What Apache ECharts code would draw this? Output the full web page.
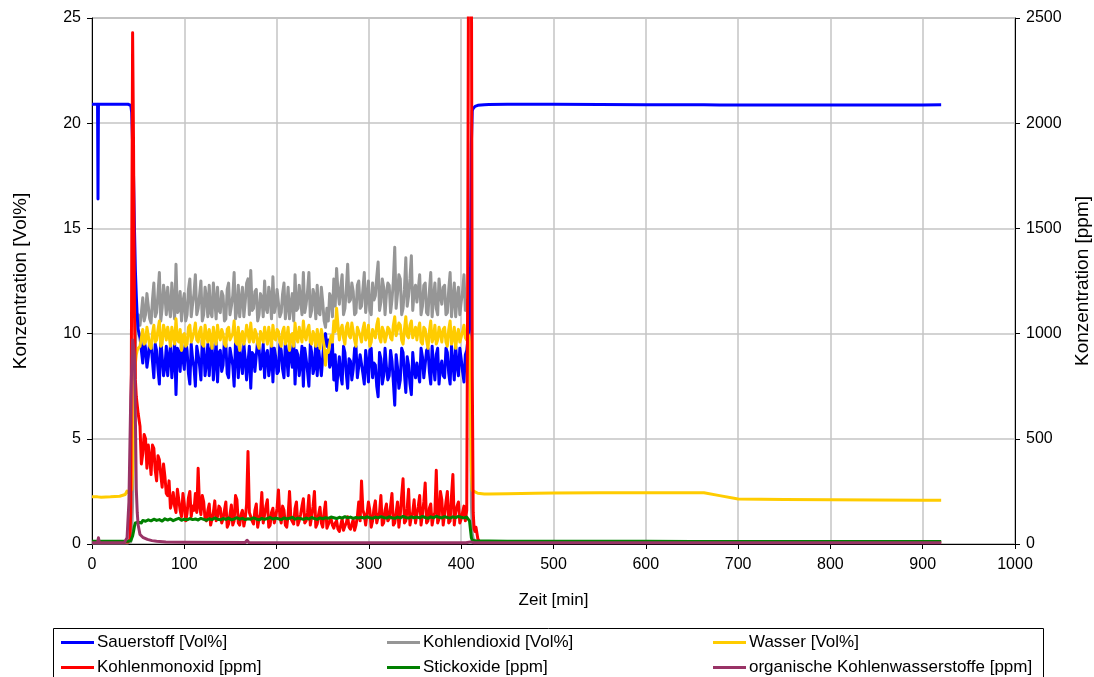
<!DOCTYPE html>
<html>
<head>
<meta charset="utf-8">
<script src="https://cdn.jsdelivr.net/npm/echarts@6/dist/echarts.min.js"></script>
<style>
html,body{margin:0;padding:0;background:#fff;overflow:hidden;}
#chart{width:1094px;height:677px;}
</style>
</head>
<body>
<div id="chart"></div>
<script>
// ---- axis ticks ----
const xTicks = [0, 100, 200, 300, 400, 500, 600, 700, 800, 900, 1000];
const leftTicks = [0, 5, 10, 15, 20, 25];
const rightTicks = [0, 500, 1000, 1500, 2000, 2500];

// ---- series names ----
const names = ['Sauerstoff [Vol%]', 'Kohlendioxid [Vol%]', 'Wasser [Vol%]',
               'Kohlenmonoxid [ppm]', 'Stickoxide [ppm]', 'organische Kohlenwasserstoffe [ppm]'];

// ---- start phase (min) ----
const preTime = [0, 6, 6.5, 7, 10, 20, 30, 36, 38, 39, 40, 41, 42, 43, 44, 45, 46, 47, 48, 49, 50];
const o2Pre  = [20.9, 20.9, 16.4, 20.9, 20.9, 20.9, 20.9, 20.9, 20.9, 20.9, 20.9, 20.9, 20.85, 20.5, 19.0, 17.5, 15.0, 13.0, 11.8, 10.8, 10.2];
const co2Pre = [0.05, 0.05, 0.05, 0.05, 0.05, 0.05, 0.05, 0.05, 0.05, 0.05, 0.05, 0.06, 0.1, 0.5, 2.0, 5.0, 8.0, 9.5, 10.2, 10.6, 10.9];
const h2oPre = [2.25, 2.24, 2.24, 2.24, 2.22, 2.24, 2.27, 2.35, 2.52, 2.5, 2.42, 2.43, 2.45, 2.6, 3.5, 5.5, 7.5, 8.6, 9.0, 9.2, 9.3];
const coPre  = [8, 8, 8, 8, 9, 9, 10, 10, 10, 10, 10, 20, 150, 1300, 2430, 1900, 1100, 780, 700, 660, 620];
const noxPre = [13, 13, 13, 13, 13, 13, 13, 13, 13, 13, 13, 14, 16, 22, 38, 60, 85, 100, 105, 104, 103];

// ---- combustion phase: A samples at 52 + 3i, B samples at 53.5 + 3i ----
const midStart = 52, midStep = 3;
const co2MidA = [
 10.4, 11.7, 10.9, 11.3, 10.5, 12.4, 11.0, 12.9, 11.2, 11.8,
 12.2, 10.8, 11.5, 13.3, 11.1, 10.6, 11.9, 10.9, 12.6, 11.4,
 12.8, 11.2, 12.5, 10.9, 11.7, 12.3, 10.8, 11.6, 12.2, 11.0,
 11.8, 10.7, 12.4, 11.3, 12.9, 11.1, 10.8, 12.2, 11.5, 12.6,
 13.0, 11.2, 12.1, 10.9, 11.7, 12.5, 11.0, 11.8, 12.7, 11.3,
 12.1, 11.0, 12.4, 11.3, 10.7, 11.9, 12.8, 11.2, 11.6, 12.9,
 11.4, 12.9, 11.1, 11.8, 12.3, 10.9, 11.5, 10.3, 10.6, 11.7,
 12.6, 13.1, 11.4, 12.8, 11.2, 13.3, 11.6, 12.0, 11.0, 12.5,
 11.3, 12.9, 11.7, 11.1, 12.4, 11.8, 13.4, 11.5, 12.2, 11.9,
 12.3, 11.6, 14.1, 11.9, 12.6, 11.2, 13.6, 11.8, 13.7, 12.0,
 11.5, 12.8, 11.3, 12.4, 10.9, 12.9, 11.7, 11.2, 12.6, 11.4,
 12.3, 11.0, 12.9, 11.6, 10.8, 12.2, 11.5, 12.8, 11.4];
const co2MidB = [
 11.0, 10.6, 11.9, 10.7, 11.6, 10.8, 11.9, 10.6, 12.3, 10.9,
 11.3, 12.4, 10.7, 11.0, 12.0, 11.5, 10.6, 12.1, 10.8, 11.9,
 10.9, 11.8, 10.6, 12.2, 10.8, 11.0, 12.4, 10.7, 11.1, 12.0,
 10.6, 12.1, 10.9, 11.8, 10.7, 12.3, 11.6, 10.8, 12.4, 10.9,
 11.1, 12.0, 10.6, 11.9, 10.8, 11.2, 12.2, 10.7, 11.0, 12.1,
 10.8, 11.9, 10.7, 12.2, 11.4, 10.6, 11.1, 12.3, 10.9, 11.0,
 12.0, 10.8, 12.1, 10.7, 11.0, 12.2, 10.6, 11.2, 11.9, 10.8,
 11.3, 12.0, 12.2, 10.9, 12.1, 11.5, 12.4, 10.9, 12.3, 11.2,
 12.1, 11.0, 12.5, 10.9, 11.6, 12.7, 11.1, 12.6, 10.9, 12.4,
 11.0, 12.5, 11.2, 12.8, 10.9, 12.1, 11.3, 12.6, 11.1, 12.3,
 12.1, 10.9, 12.3, 11.0, 12.0, 10.8, 12.4, 10.9, 11.8, 12.2,
 10.9, 12.1, 10.8, 12.4, 11.7, 10.9, 12.0, 11.1];
const o2MidA = [
 9.8, 8.6, 9.3, 8.9, 9.5, 7.9, 9.2, 7.6, 8.9, 8.4,
 8.0, 9.4, 8.7, 7.1, 9.1, 9.6, 8.3, 9.2, 7.6, 8.8,
 7.5, 9.0, 7.8, 9.4, 8.6, 8.0, 9.5, 8.7, 7.7, 9.2,
 8.5, 9.5, 7.9, 8.9, 7.5, 9.1, 9.4, 8.1, 8.8, 7.8,
 7.4, 9.0, 8.2, 9.3, 8.6, 7.9, 9.2, 8.5, 7.7, 8.9,
 8.2, 9.2, 7.9, 8.9, 9.6, 8.4, 7.6, 9.0, 8.6, 7.5,
 8.8, 7.5, 9.1, 8.4, 8.0, 9.3, 8.9, 10.0, 9.7, 8.6,
 7.8, 7.3, 8.9, 7.6, 9.1, 7.4, 8.7, 8.3, 9.4, 7.9,
 9.0, 7.6, 8.6, 9.2, 7.9, 8.5, 7.0, 8.8, 8.0, 8.4,
 8.0, 8.7, 6.6, 8.4, 7.8, 9.1, 7.2, 8.5, 7.1, 8.3,
 8.6, 7.7, 8.9, 7.9, 9.3, 7.6, 8.5, 9.0, 7.6, 8.7,
 7.9, 9.1, 7.6, 8.6, 9.4, 8.0, 8.8, 7.7, 9.2];
const o2MidB = [
 9.2, 9.7, 8.4, 9.6, 8.7, 9.5, 8.3, 9.8, 8.0, 9.4,
 8.9, 7.9, 9.6, 9.3, 8.2, 8.8, 9.7, 8.1, 9.5, 8.4,
 9.4, 8.5, 9.7, 8.0, 9.5, 9.2, 7.8, 9.6, 9.1, 8.2,
 9.7, 8.1, 9.3, 8.5, 9.6, 7.9, 8.7, 9.5, 7.8, 9.4,
 9.1, 8.2, 9.7, 8.3, 9.5, 9.0, 8.0, 9.6, 9.3, 8.1,
 9.5, 8.3, 9.6, 8.0, 8.9, 9.7, 9.2, 8.0, 9.4, 9.3,
 8.2, 9.5, 8.1, 9.6, 9.3, 8.0, 9.7, 9.4, 8.4, 9.5,
 9.0, 8.2, 8.0, 9.4, 8.1, 8.8, 7.8, 9.3, 7.9, 9.0,
 8.1, 9.2, 7.7, 9.3, 8.6, 7.5, 9.1, 7.6, 9.3, 7.8,
 9.2, 7.7, 9.0, 7.4, 9.3, 8.1, 8.9, 7.6, 9.1, 7.9,
 8.1, 9.3, 7.9, 9.2, 8.2, 9.4, 7.8, 9.3, 8.4, 8.0,
 9.3, 8.1, 9.4, 7.8, 8.5, 9.3, 8.2, 9.0];
const h2oMidA = [
 9.4, 10.2, 9.6, 9.9, 9.3, 10.4, 9.7, 10.6, 9.5, 10.1,
 10.3, 9.4, 9.9, 10.7, 9.6, 9.2, 10.0, 9.5, 10.4, 9.8,
 10.5, 9.6, 10.3, 9.4, 9.9, 10.2, 9.3, 9.8, 10.4, 9.7,
 10.0, 9.4, 10.3, 9.7, 10.6, 9.5, 9.2, 10.1, 9.8, 10.4,
 10.5, 9.6, 10.0, 9.3, 9.9, 10.3, 9.5, 9.8, 10.4, 9.7,
 10.1, 9.4, 10.3, 9.8, 9.2, 10.0, 10.5, 9.6, 9.9, 10.6,
 9.7, 10.4, 9.5, 9.9, 10.2, 9.3, 9.8, 8.5, 9.1, 9.9,
 10.6, 11.2, 9.7, 10.4, 9.5, 10.5, 9.8, 10.1, 9.4, 10.3,
 9.6, 10.5, 9.9, 9.4, 10.2, 9.8, 10.7, 9.6, 10.1, 9.9,
 10.2, 9.7, 10.8, 9.9, 10.4, 9.5, 10.8, 9.8, 10.6, 10.0,
 9.7, 10.5, 9.5, 10.2, 9.3, 10.6, 9.8, 9.5, 10.3, 9.6,
 10.3, 9.4, 10.6, 9.8, 9.3, 10.2, 9.6, 10.4, 9.7];
const h2oMidB = [
 9.8, 9.5, 10.3, 9.4, 10.0, 9.6, 10.2, 9.4, 10.4, 9.7,
 9.9, 10.3, 9.5, 9.7, 10.2, 9.9, 9.4, 10.3, 9.6, 10.1,
 9.7, 10.1, 9.5, 10.4, 9.6, 9.8, 10.3, 9.5, 9.9, 10.2,
 9.5, 10.2, 9.7, 10.0, 9.6, 10.3, 9.9, 9.5, 10.4, 9.6,
 9.8, 10.2, 9.5, 10.1, 9.6, 9.9, 10.3, 9.4, 9.8, 10.2,
 9.6, 10.1, 9.5, 10.3, 9.9, 9.4, 9.8, 10.3, 9.6, 9.9,
 10.2, 9.6, 10.1, 9.4, 9.8, 10.2, 9.4, 9.2, 9.5, 9.6,
 10.1, 10.4, 10.2, 9.8, 10.3, 9.9, 10.5, 9.7, 10.3, 9.9,
 10.2, 9.7, 10.4, 9.6, 10.0, 10.4, 9.8, 10.3, 9.6, 10.3,
 9.8, 10.4, 9.9, 10.5, 9.7, 10.2, 9.9, 10.4, 9.8, 10.3,
 10.2, 9.6, 10.3, 9.7, 10.1, 9.6, 10.4, 9.7, 10.0, 10.2,
 9.6, 10.2, 9.5, 10.3, 9.9, 9.6, 10.1, 9.8];
const coMidA = [
 560, 430, 500, 470, 330, 455, 300, 400, 270, 320,
 230, 170, 245, 150, 210, 130, 190, 145, 250, 180,
 240, 360, 140, 200, 110, 190, 95, 205, 130, 170,
 120, 200, 95, 185, 110, 210, 90, 160, 120, 440,
 150, 95, 190, 120, 245, 105, 210, 90, 170, 130,
 257, 100, 160, 80, 250, 120, 170, 90, 140, 215,
 110, 230, 130, 250, 95, 175, 80, 200, 70, 120,
 75, 110, 60, 120, 85, 130, 70, 115, 90, 200,
 300, 140, 95, 160, 110, 205, 130, 230, 100, 190,
 120, 240, 100, 200, 140, 310, 110, 260, 130, 210,
 100, 230, 140, 290, 110, 190, 130, 350, 120, 210,
 140, 250, 110, 330, 150, 200, 120, 180, 160];
const coMidB = [
 380, 520, 360, 410, 470, 350, 420, 330, 380, 240,
 300, 200, 180, 260, 160, 240, 110, 220, 130, 160,
 150, 180, 230, 120, 160, 90, 150, 110, 180, 100,
 160, 80, 140, 90, 230, 100, 140, 85, 190, 150,
 110, 160, 80, 140, 100, 180, 80, 150, 100, 170,
 130, 180, 90, 140, 120, 95, 200, 110, 180, 100,
 150, 90, 180, 80, 140, 100, 150, 75, 110, 90,
 100, 70, 90, 65, 100, 80, 95, 65, 130, 110,
 160, 90, 200, 80, 170, 100, 150, 90, 160, 110,
 180, 90, 150, 80, 230, 100, 170, 90, 150, 100,
 180, 90, 200, 100, 170, 90, 150, 100, 250, 90,
 200, 100, 230, 90, 180, 100, 150, 110];
const noxMidA = [
 105, 112, 108, 115, 110, 118, 112, 116, 109, 120,
 114, 119, 111, 117, 122, 113, 118, 115, 121, 116,
 119, 114, 122, 117, 113, 120, 116, 124, 118, 115,
 121, 117, 123, 115, 119, 125, 118, 122, 116, 120,
 118, 124, 119, 115, 122, 117, 121, 126, 119, 123,
 120, 116, 124, 119, 122, 127, 118, 123, 121, 117,
 123, 119, 126, 121, 117, 124, 120, 125, 122, 128,
 125, 121, 127, 123, 130, 124, 128, 122, 126, 124,
 127, 123, 129, 125, 122, 128, 124, 130, 126, 123,
 129, 125, 122, 128, 124, 131, 126, 123, 129, 125,
 128, 124, 131, 126, 122, 129, 125, 132, 127, 124,
 130, 126, 123, 129, 125, 131, 127, 124, 128];
const noxMidB = [
 100, 110, 104, 113, 107, 114, 109, 118, 112, 115,
 118, 112, 120, 114, 116, 119, 112, 120, 114, 118,
 116, 121, 113, 119, 118, 114, 122, 117, 120, 118,
 115, 120, 117, 121, 116, 120, 123, 117, 121, 118,
 121, 116, 122, 119, 117, 123, 118, 120, 122, 117,
 123, 120, 118, 122, 125, 119, 122, 117, 120, 124,
 119, 125, 118, 123, 121, 119, 126, 118, 124, 121,
 122, 128, 121, 126, 124, 127, 121, 125, 128, 123,
 125, 127, 124, 128, 126, 124, 129, 123, 127, 125,
 126, 129, 125, 127, 122, 128, 124, 130, 125, 127,
 126, 128, 123, 129, 124, 127, 122, 128, 125, 129,
 127, 124, 128, 126, 122, 128, 125, 130];

// ---- burn-out / cooling phase ----
const endTime = [407, 408, 409, 410, 411, 412, 413, 414, 415, 416, 418, 420, 425, 430, 450, 480, 500, 550, 600, 650, 663, 680, 700, 750, 800, 850, 900, 920];
const o2End  = [9.6, 9.9, 10.2, 12.5, 19.0, 20.6, 20.7, 20.75, 20.8, 20.82, 20.85, 20.86, 20.88, 20.89, 20.9, 20.9, 20.9, 20.89, 20.88, 20.88, 20.88, 20.87, 20.87, 20.87, 20.87, 20.87, 20.87, 20.88];
const co2End = [11.6, 11.2, 10.5, 7.5, 2.0, 0.5, 0.25, 0.18, 0.15, 0.13, 0.12, 0.11, 0.1, 0.1, 0.1, 0.1, 0.09, 0.09, 0.09, 0.09, 0.09, 0.09, 0.09, 0.09, 0.09, 0.09, 0.09, 0.09];
const h2oEnd = [10.0, 9.9, 9.6, 7.0, 3.5, 2.55, 2.52, 2.5, 2.48, 2.45, 2.41, 2.39, 2.38, 2.38, 2.39, 2.41, 2.42, 2.44, 2.44, 2.44, 2.44, 2.3, 2.14, 2.11, 2.1, 2.09, 2.08, 2.08];
const coEnd  = [1200, 2900, 2900, 2900, 2900, 800, 150, 70, 60, 80, 25, 10, 8, 8, 8, 8, 8, 8, 8, 8, 8, 8, 8, 8, 8, 8, 8, 8];
const noxEnd = [125, 120, 110, 70, 30, 18, 15, 14, 14, 14, 14, 14, 14, 14, 13, 13, 13, 13, 13, 12, 12, 12, 12, 12, 12, 12, 12, 12];

// ---- organic hydrocarbons (own sampling) ----
const hcTime = [0, 6, 7, 8, 35, 38, 40, 42, 44, 46, 47, 48, 49, 50, 52, 55, 60, 65, 70, 80, 100, 166, 168, 170, 300, 405, 410, 414, 920];
const hcVals = [6, 6, 30, 6, 6, 30, 200, 700, 970, 900, 600, 260, 150, 90, 45, 32, 22, 16, 13, 10, 8, 7, 18, 7, 6, 6, 10, 6, 6];

// ---- build [t, v] pairs ----
function build(pre, midA, midB, end) {
  const out = preTime.map((t, i) => [t, pre[i]]);
  for (let i = 0; i < midA.length; i++) {
    out.push([midStart + i * midStep, midA[i]]);
    if (i < midB.length) out.push([midStart + midStep / 2 + i * midStep, midB[i]]);
  }
  endTime.forEach((t, i) => out.push([t, end[i]]));
  return out;
}
const colors = {o2: '#0000ff', co2: '#969696', h2o: '#ffcc00', co: '#ff0000', nox: '#008000', hc: '#993366'};
const FONT = "'Liberation Sans', Arial, sans-serif";

function lineSeries(name, color, data, yIdx) {
  return {
    name: name, type: 'line', yAxisIndex: yIdx, data: data,
    symbol: 'none', showSymbol: false, smooth: false, sampling: null,
    lineStyle: {color: color, width: 3, join: 'round'},
    itemStyle: {color: color},
    clip: true, animation: false
  };
}

const series = [
  lineSeries(names[1], colors.co2, build(co2Pre, co2MidA, co2MidB, co2End), 0),
  lineSeries(names[0], colors.o2, build(o2Pre, o2MidA, o2MidB, o2End), 0),
  lineSeries(names[2], colors.h2o, build(h2oPre, h2oMidA, h2oMidB, h2oEnd), 0),
  lineSeries(names[3], colors.co, build(coPre, coMidA, coMidB, coEnd), 1),
  lineSeries(names[4], colors.nox, build(noxPre, noxMidA, noxMidB, noxEnd), 1),
  lineSeries(names[5], colors.hc, hcTime.map((t, i) => [t, hcVals[i]]), 1)
];

const legendPos = [
  {left: 61, top: 634}, {left: 387, top: 634}, {left: 713, top: 634},
  {left: 61, top: 659}, {left: 387, top: 659}, {left: 713, top: 659}
];
const legends = names.map((n, i) => ({
  data: [n], left: legendPos[i].left, top: legendPos[i].top, padding: 0,
  icon: 'rect', itemWidth: 33, itemHeight: 3, itemGap: 0, selectedMode: false,
  textStyle: {fontFamily: FONT, fontSize: 17, color: '#000', padding: [0, 0, 0, -2]}
}));

const plain = v => String(v);

const chart = echarts.init(document.getElementById('chart'), null, {renderer: 'canvas'});
chart.setOption({
  animation: false,
  backgroundColor: '#ffffff',
  textStyle: {fontFamily: FONT},
  grid: {left: 92, right: 79, top: 18, bottom: 133, show: true, borderColor: '#808080', borderWidth: 1,
         containLabel: false, outerBoundsMode: 'none'},
  legend: legends,
  graphic: [{
    type: 'rect', z: 100, silent: true,
    shape: {x: 53.5, y: 628.5, width: 990, height: 60},
    style: {fill: 'none', stroke: '#000', lineWidth: 1}
  }],
  xAxis: {
    type: 'value', min: xTicks[0], max: xTicks[xTicks.length - 1], interval: xTicks[1] - xTicks[0],
    name: 'Zeit [min]', nameLocation: 'middle', nameGap: 48,
    nameTextStyle: {fontFamily: FONT, fontSize: 17, color: '#000'},
    axisLine: {show: true, lineStyle: {color: '#000', width: 1}},
    axisTick: {show: true, inside: false, length: 5, lineStyle: {color: '#000'}},
    axisLabel: {fontFamily: FONT, fontSize: 16, color: '#000', margin: 13, formatter: plain},
    splitLine: {show: true, lineStyle: {color: '#c4c4c4', width: 1.5}}
  },
  yAxis: [{
    type: 'value', position: 'left', min: leftTicks[0], max: leftTicks[leftTicks.length - 1], interval: leftTicks[1] - leftTicks[0],
    name: 'Konzentration [Vol%]', nameLocation: 'middle', nameGap: 62, nameRotate: 90,
    nameTextStyle: {fontFamily: FONT, fontSize: 19, color: '#000'},
    axisLine: {show: true, lineStyle: {color: '#000', width: 1}},
    axisTick: {show: true, inside: false, length: 5, lineStyle: {color: '#000'}},
    axisLabel: {fontFamily: FONT, fontSize: 16, color: '#000', margin: 11, formatter: plain},
    splitLine: {show: true, lineStyle: {color: '#c4c4c4', width: 1.5}}
  }, {
    type: 'value', position: 'right', min: rightTicks[0], max: rightTicks[rightTicks.length - 1], interval: rightTicks[1] - rightTicks[0],
    name: 'Konzentration [ppm]', nameLocation: 'middle', nameGap: 58, nameRotate: 90,
    nameTextStyle: {fontFamily: FONT, fontSize: 19, color: '#000'},
    axisLine: {show: true, lineStyle: {color: '#000', width: 1}},
    axisTick: {show: true, inside: false, length: 5, lineStyle: {color: '#000'}},
    axisLabel: {fontFamily: FONT, fontSize: 16, color: '#000', margin: 11, formatter: plain},
    splitLine: {show: false}
  }],
  series: series
});
</script>
</body>
</html>
